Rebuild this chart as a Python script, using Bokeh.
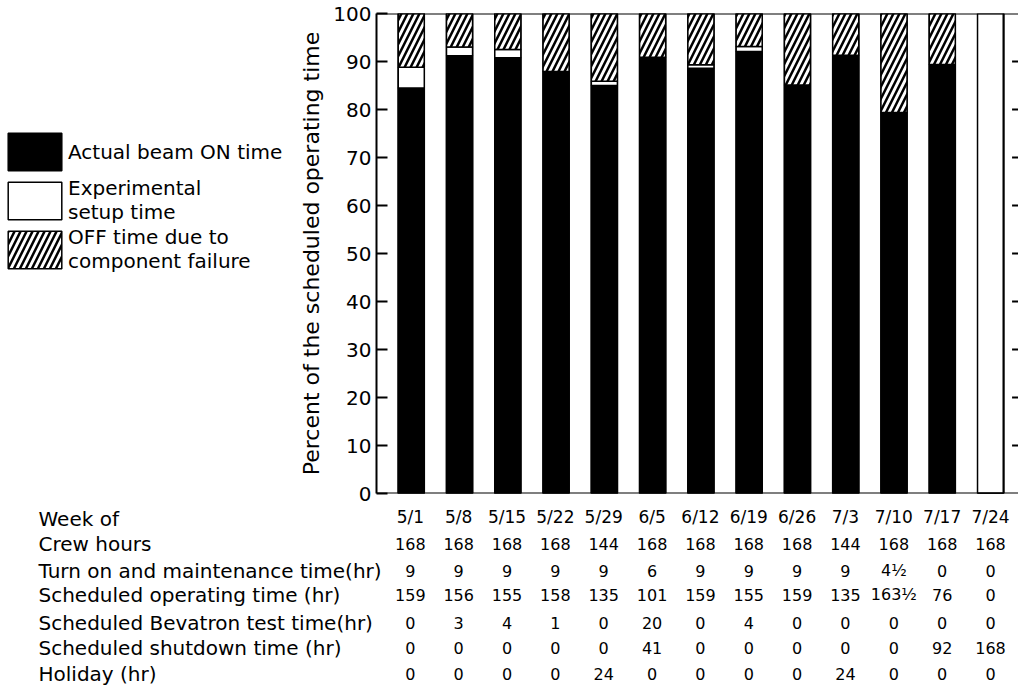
from bokeh.plotting import figure
from bokeh.layouts import column, row
from bokeh.models import (ColumnDataSource, Range1d, FixedTicker, Legend, LegendItem, Span)
from bokeh.core.properties import value
from bokeh.embed import file_html
from bokeh.resources import INLINE

# ---------------- data ----------------
weeks = ["5/1", "5/8", "5/15", "5/22", "5/29", "6/5", "6/12", "6/19",
         "6/26", "7/3", "7/10", "7/17", "7/24"]
beam_on = [84.5, 91.2, 90.8, 87.9, 85.0, 90.9, 88.6, 92.1, 85.1, 91.3, 79.4, 89.4, 0]
setup = [4.3, 1.8, 1.7, 0.0, 0.9, 0.0, 0.7, 1.0, 0.0, 0.0, 0.0, 0.0, 0]
off_time = [11.2, 7.0, 7.5, 12.1, 14.1, 9.1, 10.7, 6.9, 14.9, 8.7, 20.6, 10.6, 0]

crew_hours = [168, 168, 168, 168, 144, 168, 168, 168, 168, 144, 168, 168, 168]
turn_on = [9, 9, 9, 9, 9, 6, 9, 9, 9, 9, 4.5, 0, 0]
sched_op = [159, 156, 155, 158, 135, 101, 159, 155, 159, 135, 163.5, 76, 0]
bev_test = [0, 3, 4, 1, 0, 20, 0, 4, 0, 0, 0, 0, 0]
shutdown = [0, 0, 0, 0, 0, 41, 0, 0, 0, 0, 0, 92, 168]
holiday = [0, 0, 0, 0, 24, 0, 0, 0, 0, 24, 0, 0, 0]

row_labels = ["Week of", "Crew hours", "Turn on and maintenance time(hr)",
              "Scheduled operating time (hr)", "Scheduled Bevatron test time(hr)",
              "Scheduled shutdown time (hr)", "Holiday (hr)"]
legend_labels = ["Actual beam ON time", "Experimental\nsetup time",
                 "OFF time due to\ncomponent failure"]
y_ticks = [0, 10, 20, 30, 40, 50, 60, 70, 80, 90, 100]

# ---------------- layout constants ----------------
FONT = "DejaVu Sans"
W, H = 1018, 697
FRAME_L, FRAME_T, FRAME_B = 375, 13, 493
TOP_H = 506                 # height of the chart row
LEG_W = 296                 # width of the legend panel
PX = 48.35                  # pixels per week
X_START = -0.72
X_END = X_START + (W - FRAME_L) / PX
BAR_W = 0.54
BAR_EDGE = 12.27            # right edge of the last bar = right axis
TICK_X = BAR_EDGE + 12.5 / PX
LABEL_X = 38                # left edge of the row labels (px)
WEEK_Y = 516                # px from the top of the page
ROW_Y = [518, 543, 570, 594, 622, 647, 673]
NAN = float("nan")


def fmt(v):
    if isinstance(v, float) and abs(v - int(v) - 0.5) < 1e-9:
        return f"{int(v)}\u00bd"
    return str(int(v))


x = list(range(len(weeks)))
setup_top = [b + s for b, s in zip(beam_on, setup)]
off_top = [t + o for t, o in zip(setup_top, off_time)]
src = ColumnDataSource(dict(x=x, on=beam_on, setup_top=setup_top, off_top=off_top))

bar_style = dict(line_color="black", line_width=1.5)
hatch_style = dict(hatch_pattern="/", hatch_color="black", hatch_scale=12, hatch_weight=2.5)


def bare(fig):
    fig.axis.visible = False
    fig.grid.visible = False
    fig.outline_line_color = None


# ---------------- main chart ----------------
p = figure(width=W - LEG_W, height=TOP_H,
           x_range=Range1d(X_START, X_END), y_range=Range1d(0, 100),
           output_backend="svg", toolbar_location=None,
           min_border_left=FRAME_L - LEG_W, min_border_right=0,
           min_border_top=FRAME_T, min_border_bottom=TOP_H - FRAME_B)
p.outline_line_color = None
p.grid.visible = False
p.xaxis.visible = False

p.vbar(x="x", bottom=0, top=100, width=BAR_W, source=src, fill_color="white", **bar_style)
r_on = p.vbar(x="x", bottom=0, top="on", width=BAR_W, source=src, fill_color="black", **bar_style)
r_setup = p.vbar(x="x", bottom="on", top="setup_top", width=BAR_W, source=src,
                 fill_color="white", **bar_style)
r_off = p.vbar(x="x", bottom="setup_top", top="off_top", width=BAR_W, source=src,
               fill_color="white", **bar_style, **hatch_style)

for loc in (0, 100):
    p.add_layout(Span(location=loc, dimension="width", line_color="black", line_width=2))
p.add_layout(Span(location=BAR_EDGE, dimension="height", line_color="black", line_width=2))
p.scatter(x=[TICK_X] * (len(y_ticks) - 2), y=y_ticks[1:-1], marker="dash", size=8,
          line_color="black", line_width=2)

ya = p.yaxis[0]
ya.ticker = FixedTicker(ticks=y_ticks)
ya.axis_line_width = 2
ya.axis_line_color = "black"
ya.major_tick_in = 11
ya.major_tick_out = 0
ya.major_tick_line_width = 2
ya.major_tick_line_color = "black"
ya.minor_tick_line_color = None
ya.major_label_text_font = FONT
ya.major_label_text_font_size = "20px"
ya.major_label_text_color = "black"
ya.major_label_standoff = 5
ya.axis_label = "Percent of the scheduled operating time"
ya.axis_label_text_font = FONT
ya.axis_label_text_font_style = "normal"
ya.axis_label_text_font_size = "22px"
ya.axis_label_text_color = "black"
ya.axis_label_standoff = 6

# ---------------- legend panel ----------------
lg = figure(width=LEG_W, height=TOP_H, x_range=Range1d(0, 1), y_range=Range1d(0, 1),
            output_backend="svg", toolbar_location=None,
            min_border=0, min_border_left=0, min_border_right=0,
            min_border_top=0, min_border_bottom=0)
bare(lg)
# legend sample renderers: a single undrawable (NaN) bar each, used only for the swatches
swatch = ColumnDataSource(dict(x=[NAN], top=[NAN], bottom=[NAN]))
l_on = lg.vbar(x="x", top="top", bottom="bottom", width=0.1, source=swatch,
               fill_color="black", **bar_style)
l_setup = lg.vbar(x="x", top="top", bottom="bottom", width=0.1, source=swatch,
                  fill_color="white", **bar_style)
l_off = lg.vbar(x="x", top="top", bottom="bottom", width=0.1, source=swatch,
                fill_color="white", **bar_style, **hatch_style)
legend = Legend(items=[LegendItem(label=legend_labels[0], renderers=[l_on]),
                       LegendItem(label=legend_labels[1], renderers=[l_setup]),
                       LegendItem(label=legend_labels[2], renderers=[l_off])],
                location=(1, 220), margin=0, padding=0, spacing=1,
                glyph_width=67, glyph_height=47, label_standoff=0,
                label_text_font=FONT, label_text_font_size="20px",
                label_text_color="black", border_line_color=None,
                background_fill_color=None, label_text_line_height=0.95)
lg.add_layout(legend, "center")

# ---------------- table panel ----------------
TAB_H = H - TOP_H
t = figure(width=W, height=TAB_H,
           x_range=Range1d(X_START - FRAME_L / PX, X_END), y_range=Range1d(H, TOP_H),
           output_backend="svg", toolbar_location=None,
           min_border=0, min_border_left=0, min_border_right=0,
           min_border_top=0, min_border_bottom=0)
bare(t)

t.text(x=x, y=[WEEK_Y] * len(x), text=weeks, text_align="center", text_baseline="middle",
       text_font=value(FONT), text_font_size=value("17px"), text_color="black")
rows = [crew_hours, turn_on, sched_op, bev_test, shutdown, holiday]
for ry, vals in zip(ROW_Y[1:], rows):
    t.text(x=x, y=[ry] * len(x), text=[fmt(v) for v in vals], text_align="center",
           text_baseline="middle", text_font=value(FONT), text_font_size=value("16px"),
           text_color="black")

lab_x = X_START - (FRAME_L - LABEL_X) / PX
t.text(x=[lab_x] * len(row_labels), y=ROW_Y, text=row_labels, text_align="left",
       text_baseline="middle", text_font=value(FONT), text_font_size=value("20px"),
       text_color="black")

layout = column(row(lg, p), t)
open("out.html", "w").write(file_html(layout, INLINE))
